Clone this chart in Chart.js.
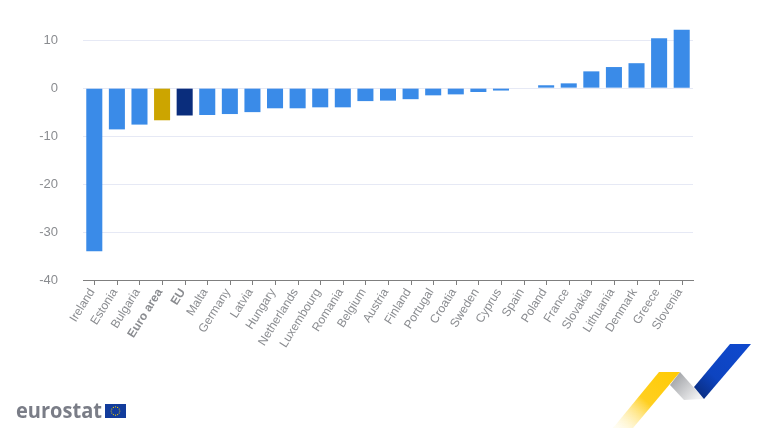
<!DOCTYPE html>
<html>
<head>
<meta charset="utf-8">
<title>Eurostat chart</title>
<script src="https://cdn.jsdelivr.net/npm/chart.js@4/dist/chart.umd.min.js"></script>
<style>
html,body{margin:0;padding:0;background:#fff;width:768px;height:432px;overflow:hidden}
#c{position:absolute;left:0;top:0}
#deco{position:absolute;left:0;top:0}
</style>
</head>
<body>
<canvas id="c" width="768" height="432" style="width:768px;height:432px"></canvas>
<svg id="deco" width="768" height="432" viewBox="0 0 768 432">
  <defs>
    <linearGradient id="gy" gradientUnits="userSpaceOnUse" x1="672" y1="372" x2="620" y2="430">
      <stop offset="0" stop-color="#ffcb05"/><stop offset="0.5" stop-color="#ffcf20"/><stop offset="1" stop-color="#fff6d0" stop-opacity="0.3"/>
    </linearGradient>
    <linearGradient id="gg" gradientUnits="userSpaceOnUse" x1="675" y1="376" x2="698" y2="398">
      <stop offset="0" stop-color="#a3a5a9"/><stop offset="1" stop-color="#f1f1f2"/>
    </linearGradient>
    <linearGradient id="gb" gradientUnits="userSpaceOnUse" x1="742" y1="350" x2="698" y2="396">
      <stop offset="0" stop-color="#0f48cc"/><stop offset="0.6" stop-color="#0d44c0"/><stop offset="1" stop-color="#0a2d80"/>
    </linearGradient>
  </defs>
  <polygon points="680,372 704,399 684,400 670,385" fill="url(#gg)"/>
  <polygon points="659,372 680,372 633,428 613,428" fill="url(#gy)"/>
  <polygon points="730,344 751,344 704,399 694,387" fill="url(#gb)"/>
  <text x="16" y="418" font-family="'Open Sans','Liberation Sans',sans-serif" font-weight="700" font-size="21" fill="#7a7d87" textLength="86" lengthAdjust="spacingAndGlyphs">eurostat</text>
  <rect x="105" y="404" width="21" height="14" fill="#123c9c"/>
  <g fill="#f5d000">
    <circle cx="115.5" cy="406.8" r=".6"/><circle cx="117.6" cy="407.4" r=".6"/><circle cx="119.2" cy="409" r=".6"/><circle cx="119.8" cy="411" r=".6"/>
    <circle cx="119.2" cy="413" r=".6"/><circle cx="117.6" cy="414.6" r=".6"/><circle cx="115.5" cy="415.2" r=".6"/><circle cx="113.4" cy="414.6" r=".6"/>
    <circle cx="111.8" cy="413" r=".6"/><circle cx="111.2" cy="411" r=".6"/><circle cx="111.8" cy="409" r=".6"/><circle cx="113.4" cy="407.4" r=".6"/>
  </g>
</svg>
<script>
const categories = ["Ireland","Estonia","Bulgaria","Euro area","EU","Malta","Germany","Latvia","Hungary","Netherlands","Luxembourg","Romania","Belgium","Austria","Finland","Portugal","Croatia","Sweden","Cyprus","Spain","Poland","France","Slovakia","Lithuania","Denmark","Greece","Slovenia"];
const values = [-34.0,-8.6,-7.6,-6.7,-5.7,-5.6,-5.4,-5.0,-4.2,-4.2,-4.0,-4.0,-2.7,-2.6,-2.3,-1.5,-1.3,-0.8,-0.5,0,0.6,1.0,3.5,4.4,5.2,10.4,12.2];
const yTicks = [-40,-30,-20,-10,0,10];
const highlights = {"Euro area":"#cca500","EU":"#0a2d7c"};
const barColor = "#3a8be8";
const fontFamily = "'Liberation Sans', Arial, sans-serif";

new Chart(document.getElementById("c"), {
  type: "bar",
  data: {
    labels: categories,
    datasets: [{
      data: values,
      backgroundColor: categories.map(c => highlights[c] || barColor),
      categoryPercentage: 1,
      barPercentage: 0.71,
      borderWidth: 0
    }]
  },
  options: {
    responsive: false,
    animation: false,
    layout: { padding: { left: 0, right: 75, top: 21, bottom: 0 } },
    plugins: { legend: { display: false }, title: { display: false }, tooltip: { enabled: false } },
    scales: {
      x: {
        offset: true,
        afterFit: s => { s.height = 152; },
        grid: { display: false, drawTicks: false },
        border: { display: true, color: "#7f7f7f", width: 1 },
        ticks: {
          autoSkip: false,
          minRotation: 58,
          maxRotation: 58,
          padding: 6,
          labelOffset: -2,
          color: "#8a8c90",
          font: ctx => ({
            family: fontFamily,
            size: 12,
            weight: highlights[categories[ctx.index]] ? "bold" : "normal"
          })
        }
      },
      y: {
        min: -40,
        max: 14,
        afterFit: s => { s.width = 83; },
        afterBuildTicks: s => { s.ticks = yTicks.map(v => ({ value: v })); },
        grid: { color: "#e6e9f5", lineWidth: 1, drawTicks: true, tickLength: 25, tickColor: "rgba(0,0,0,0)" },
        border: { display: false },
        ticks: {
          padding: 0,
          color: "#8a8c90",
          font: { family: fontFamily, size: 13 }
        }
      }
    }
  },
  plugins: [{
    id: "xTickMarks",
    afterDatasetsDraw(chart) {
      const x = chart.scales.x, c = chart.ctx, b = chart.chartArea.bottom;
      c.save();
      c.strokeStyle = "#7f7f7f";
      c.lineWidth = 1;
      categories.forEach((_, i) => {
        const px = Math.round(x.getPixelForTick(i)) + 0.5;
        c.beginPath(); c.moveTo(px, b); c.lineTo(px, b + 5); c.stroke();
      });
      c.restore();
    }
  }]
});
</script>
</body>
</html>
